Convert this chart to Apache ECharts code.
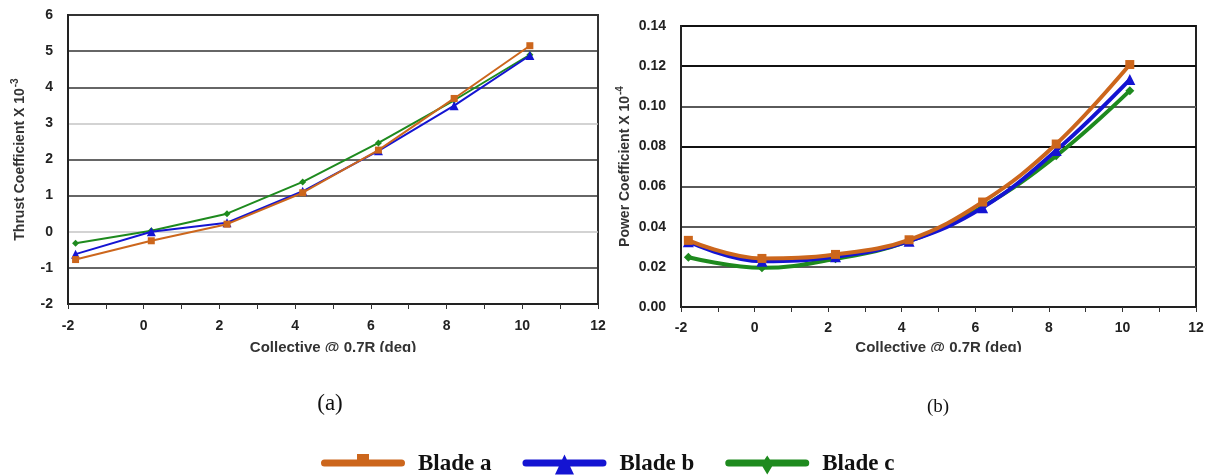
<!DOCTYPE html>
<html>
<head>
<meta charset="utf-8">
<script src="https://cdn.jsdelivr.net/npm/echarts@6/dist/echarts.min.js"></script>
<style>
  html, body { margin: 0; padding: 0; background: #fff; }
  #chart { width: 1215px; height: 475px; }
</style>
</head>
<body>
<div id="chart"></div>
<script>
// ---- Data ----
const collective = [-1.8, 0.2, 2.2, 4.2, 6.2, 8.2, 10.2];
const seriesNames = ['Blade a', 'Blade b', 'Blade c'];

// Thrust coefficient x 10^-3
const thrustA = [-0.77, -0.25, 0.21, 1.08, 2.26, 3.69, 5.15];
const thrustB = [-0.62, 0.00, 0.25, 1.12, 2.24, 3.49, 4.88];
const thrustC = [-0.32, 0.03, 0.50, 1.38, 2.46, 3.64, 4.90];

// Power coefficient x 10^-4
const powerA = [0.0332, 0.0242, 0.0262, 0.0335, 0.0523, 0.0812, 0.1208];
const powerB = [0.0325, 0.0228, 0.0250, 0.0328, 0.0495, 0.0780, 0.1133];
const powerC = [0.0248, 0.0195, 0.0240, 0.0328, 0.0500, 0.0753, 0.1078];

const xTicks = [-2, 0, 2, 4, 6, 8, 10, 12];
const thrustTicks = [-2, -1, 0, 1, 2, 3, 4, 5, 6];
const powerTicks = [0, 0.02, 0.04, 0.06, 0.08, 0.10, 0.12, 0.14];

// ---- Styles ----
const colors = ['#CC661C', '#1414D2', '#1E8A1E'];
const symbols = ['rect', 'triangle', 'diamond'];
const sans = 'Liberation Sans, Arial, sans-serif';
const serif = 'Liberation Serif, Times New Roman, serif';

function pairs(xs, ys) { return xs.map((x, i) => [x, ys[i]]); }

const labelStyle = { fontFamily: sans, fontWeight: 'bold', fontSize: 14, color: '#222' };

function xAxisDef(gridIndex, nameGap, margin) {
  return {
    type: 'value', gridIndex: gridIndex,
    min: xTicks[0], max: xTicks[xTicks.length - 1], interval: 2,
    name: 'Collective @ 0.7R (deg)', nameLocation: 'middle', nameGap: nameGap,
    nameTextStyle: { fontFamily: sans, fontWeight: 'bold', fontSize: 15, color: '#333' },
    axisLine: { show: true, onZero: false, lineStyle: { color: '#222', width: 2 } },
    axisTick: { show: true, length: 5, inside: false, lineStyle: { color: '#333', width: 1 } },
    minorTick: { show: true, splitNumber: 2, length: 5, lineStyle: { color: '#333', width: 1 } },
    axisLabel: Object.assign({ margin: margin }, labelStyle),
    splitLine: { show: false }
  };
}

const darkL = '#333333', grayL = '#c4c4c4';
const darkR = '#111111', grayR = '#5a5a5a';

const option = {
  animation: false,
  backgroundColor: '#fff',
  grid: [
    { left: 68, top: 15, width: 530, height: 289, show: true, borderColor: '#333', borderWidth: 2, backgroundColor: 'transparent' },
    { left: 681, top: 26, width: 515, height: 281, show: true, borderColor: '#222', borderWidth: 2, backgroundColor: 'transparent' }
  ],
  xAxis: [xAxisDef(0, 36, 15), xAxisDef(1, 32, 14)],
  yAxis: [
    {
      type: 'value', gridIndex: 0,
      min: thrustTicks[0], max: thrustTicks[thrustTicks.length - 1], interval: 1,
      name: '{t|Thrust Coefficient X 10}{s|-3}', nameLocation: 'middle', nameGap: 41, nameRotate: 90,
      nameTextStyle: {
        rich: {
          t: { fontFamily: sans, fontWeight: 'bold', fontSize: 14, color: '#333', verticalAlign: 'bottom' },
          s: { fontFamily: sans, fontWeight: 'bold', fontSize: 10, color: '#333', verticalAlign: 'bottom', padding: [0, 0, 7, 1] }
        }
      },
      axisLine: { show: true, onZero: false, lineStyle: { color: '#222', width: 2 } },
      axisTick: { show: false },
      axisLabel: Object.assign({ margin: 15 }, labelStyle),
      splitLine: { show: true, showMinLine: true, showMaxLine: true,
        lineStyle: { width: 1.5, color: [darkL, darkL, grayL, darkL, darkL, grayL, darkL, darkL, darkL] } }
    },
    {
      type: 'value', gridIndex: 1,
      min: powerTicks[0], max: powerTicks[powerTicks.length - 1], interval: 0.02,
      name: '{t|Power Coefficient X 10}{s|-4}', nameLocation: 'middle', nameGap: 49, nameRotate: 90,
      nameTextStyle: {
        rich: {
          t: { fontFamily: sans, fontWeight: 'bold', fontSize: 14, color: '#333', verticalAlign: 'bottom' },
          s: { fontFamily: sans, fontWeight: 'bold', fontSize: 10, color: '#333', verticalAlign: 'bottom', padding: [0, 0, 7, 1] }
        }
      },
      axisLine: { show: true, onZero: false, lineStyle: { color: '#222', width: 2 } },
      axisTick: { show: false },
      axisLabel: Object.assign({ margin: 15, formatter: v => v.toFixed(2) }, labelStyle),
      splitLine: { show: true, showMinLine: true, showMaxLine: true,
        lineStyle: { width: 2, color: [darkR, grayR, grayR, grayR, darkR, grayR, darkR, darkR] } }
    }
  ],
  legend: {
    left: 316, top: 448,
    itemWidth: 84, itemHeight: 22, itemGap: 31,
    selectedMode: false,
    textStyle: { fontFamily: serif, fontWeight: 'bold', fontSize: 23, color: '#111', padding: [0, 0, 0, 8] },
    data: [
      { name: 'Blade a', icon: 'path://M0,0 L0.01,0 L0,0.01 Z M84,22 L83.99,22 L84,21.99 Z M3.5,6 L80.5,6 A3.5,3.5 0 0 1 80.5,13 L3.5,13 A3.5,3.5 0 0 1 3.5,6 Z M36,0.5 L48,0.5 L48,7 L36,7 Z' },
      { name: 'Blade b', icon: 'path://M0,0 L0.01,0 L0,0.01 Z M84,22 L83.99,22 L84,21.99 Z M3.5,6 L80.5,6 A3.5,3.5 0 0 1 80.5,13 L3.5,13 A3.5,3.5 0 0 1 3.5,6 Z M42,1 L51.5,21 L32.5,21 Z' },
      { name: 'Blade c', icon: 'path://M0,0 L0.01,0 L0,0.01 Z M84,22 L83.99,22 L84,21.99 Z M3.5,6 L80.5,6 A3.5,3.5 0 0 1 80.5,13 L3.5,13 A3.5,3.5 0 0 1 3.5,6 Z M42,2 L48,11 L42,21 L36,11 Z' }
    ]
  },
  graphic: [
    { type: 'rect', z: 100, shape: { x: 0, y: 352, width: 1215, height: 14 }, style: { fill: '#fff' } },
    { type: 'text', z: 101, x: 330, y: 404, style: { text: '(a)', fontFamily: serif, fontSize: 23, fill: '#111', textAlign: 'center', textVerticalAlign: 'middle' } },
    { type: 'text', z: 101, x: 938, y: 407, style: { text: '(b)', fontFamily: serif, fontSize: 19, fill: '#111', textAlign: 'center', textVerticalAlign: 'middle' } }
  ],
  series: []
};

const thrustData = [thrustA, thrustB, thrustC];
const powerData = [powerA, powerB, powerC];
for (let i = 0; i < 3; i++) {
  option.series.push({
    name: seriesNames[i], type: 'line', xAxisIndex: 0, yAxisIndex: 0,
    data: pairs(collective, thrustData[i]),
    symbol: symbols[i], symbolSize: i === 1 ? 9 : 7,
    color: colors[i],
    lineStyle: { width: 2, color: colors[i] },
    itemStyle: { color: colors[i] },
    z: 3 - i
  });
}
for (let i = 0; i < 3; i++) {
  option.series.push({
    name: seriesNames[i], type: 'line', xAxisIndex: 1, yAxisIndex: 1,
    data: pairs(collective, powerData[i]),
    symbol: symbols[i], symbolSize: i === 1 ? 11 : 9,
    smooth: 0.4,
    color: colors[i],
    lineStyle: { width: 4, color: colors[i] },
    itemStyle: { color: colors[i] },
    z: 3 - i
  });
}

const chart = echarts.init(document.getElementById('chart'), null, { renderer: 'canvas' });
chart.setOption(option);
</script>
</body>
</html>
